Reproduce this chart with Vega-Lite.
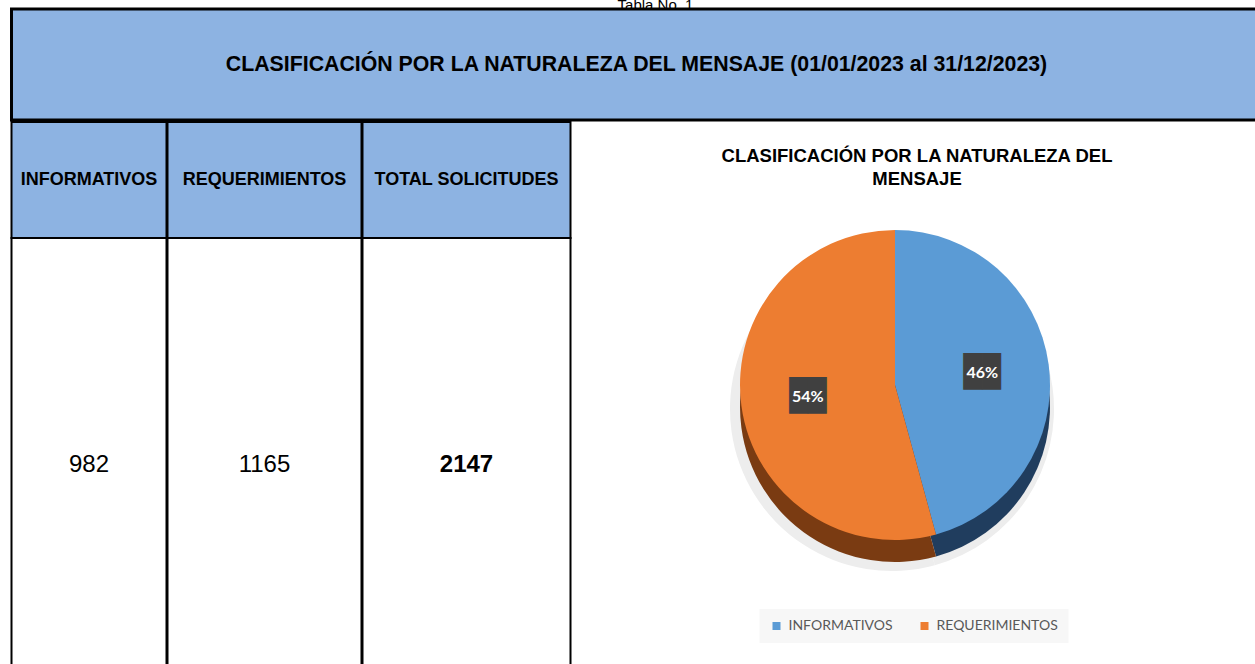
{
  "$schema": "https://vega.github.io/schema/vega-lite/v6.json",
  "padding": {"left": 9.5, "top": -4, "right": 0, "bottom": 0},
  "background": "white",
  "datasets": {
    "tabla": [
      {"columna": "INFORMATIVOS", "valor": 982},
      {"columna": "REQUERIMIENTOS", "valor": 1165},
      {"columna": "TOTAL SOLICITUDES", "valor": 2147}
    ],
    "torta": [
      {"categoria": "INFORMATIVOS", "valor": 982, "etiqueta": "46%"},
      {"categoria": "REQUERIMIENTOS", "valor": 1165, "etiqueta": "54%"}
    ],
    "titulo": [{"texto": "CLASIFICACIÓN POR LA NATURALEZA DEL MENSAJE (01/01/2023 al 31/12/2023)"}]
  },
  "spacing": -4,
  "resolve": {"scale": {"color": "independent"}, "legend": {"color": "independent"}},
  "vconcat": [
    {
      "title": {"text": "Tabla No. 1", "fontSize": 15, "font": "Liberation Sans", "fontWeight": "normal", "color": "black", "anchor": "middle", "dx": 19, "dy": 3, "offset": -13, "baseline": "alphabetic"},
      "data": {"name": "titulo"},
      "width": 1250,
      "height": 111,
      "view": {"fill": "#8DB3E2", "stroke": "black", "strokeWidth": 3},
      "mark": {"type": "text", "font": "Liberation Sans", "fontSize": 21.3, "fontWeight": "bold", "color": "black"},
      "encoding": {"text": {"field": "texto", "type": "nominal"}}
    },
    {
      "spacing": -3,
      "resolve": {"scale": {"color": "independent"}, "legend": {"color": "independent"}},
      "hconcat": [
        {
          "spacing": 0,
          "bounds": "flush",
          "vconcat": [
            {"data": {"name": "tabla"}, "transform": [{"filter": "datum.columna === 'INFORMATIVOS'"}], "width": 155, "height": 116, "view": {"fill": "#8DB3E2", "stroke": "black", "strokeWidth": 2}, "mark": {"type": "text", "font": "Liberation Sans", "fontSize": 18, "fontWeight": "bold", "color": "black"}, "encoding": {"text": {"field": "columna", "type": "nominal"}}},
            {"data": {"name": "tabla"}, "transform": [{"filter": "datum.columna === 'INFORMATIVOS'"}], "width": 155, "height": 454, "view": {"fill": "white", "stroke": "black", "strokeWidth": 2}, "mark": {"type": "text", "font": "Liberation Sans", "fontSize": 24, "fontWeight": "normal", "color": "black"}, "encoding": {"text": {"field": "valor", "type": "nominal"}}}
          ]
        },
        {
          "spacing": 0,
          "bounds": "flush",
          "vconcat": [
            {"data": {"name": "tabla"}, "transform": [{"filter": "datum.columna === 'REQUERIMIENTOS'"}], "width": 194, "height": 116, "view": {"fill": "#8DB3E2", "stroke": "black", "strokeWidth": 2}, "mark": {"type": "text", "font": "Liberation Sans", "fontSize": 18, "fontWeight": "bold", "color": "black"}, "encoding": {"text": {"field": "columna", "type": "nominal"}}},
            {"data": {"name": "tabla"}, "transform": [{"filter": "datum.columna === 'REQUERIMIENTOS'"}], "width": 194, "height": 454, "view": {"fill": "white", "stroke": "black", "strokeWidth": 2}, "mark": {"type": "text", "font": "Liberation Sans", "fontSize": 24, "fontWeight": "normal", "color": "black"}, "encoding": {"text": {"field": "valor", "type": "nominal"}}}
          ]
        },
        {
          "spacing": 0,
          "bounds": "flush",
          "vconcat": [
            {"data": {"name": "tabla"}, "transform": [{"filter": "datum.columna === 'TOTAL SOLICITUDES'"}], "width": 208, "height": 116, "view": {"fill": "#8DB3E2", "stroke": "black", "strokeWidth": 2}, "mark": {"type": "text", "font": "Liberation Sans", "fontSize": 18, "fontWeight": "bold", "color": "black"}, "encoding": {"text": {"field": "columna", "type": "nominal"}}},
            {"data": {"name": "tabla"}, "transform": [{"filter": "datum.columna === 'TOTAL SOLICITUDES'"}], "width": 208, "height": 454, "view": {"fill": "white", "stroke": "black", "strokeWidth": 2}, "mark": {"type": "text", "font": "Liberation Sans", "fontSize": 24, "fontWeight": "bold", "color": "black"}, "encoding": {"text": {"field": "valor", "type": "nominal"}}}
          ]
        },
        {
          "data": {"name": "torta"},
          "width": 685,
          "height": 480,
          "view": {"stroke": null},
          "title": {"text": ["CLASIFICACIÓN POR LA NATURALEZA DEL", "MENSAJE"], "font": "Liberation Sans", "fontSize": 18.5, "fontWeight": "bold", "color": "black", "lineHeight": 23, "anchor": "middle", "offset": -66, "dx": 3},
          "encoding": {
            "theta": {"field": "valor", "type": "quantitative", "stack": true},
            "order": {"field": "categoria", "type": "nominal", "sort": "ascending"}
          },
          "layer": [
            {
              "mark": {"type": "arc", "radius": 162, "xOffset": -22, "yOffset": 47},
              "encoding": {
                "detail": {"field": "categoria", "type": "nominal"},
                "color": {"value": "#EDEDED"}
              }
            },
            {
              "mark": {"type": "arc", "radius": 155, "xOffset": -19, "yOffset": 45},
              "encoding": {
                "detail": {"field": "categoria", "type": "nominal"},
                "color": {"condition": {"test": "datum.categoria === 'INFORMATIVOS'", "value": "#203D5E"}, "value": "#7A3B12"}
              }
            },
            {
              "mark": {"type": "arc", "radius": 155, "xOffset": -19, "yOffset": 23},
              "encoding": {
                "color": {
                  "field": "categoria", "type": "nominal",
                  "scale": {"domain": ["INFORMATIVOS", "REQUERIMIENTOS"], "range": ["#5B9BD5", "#ED7D31"]},
                  "legend": {"orient": "bottom", "direction": "horizontal", "title": null, "symbolType": "square", "symbolSize": 64, "symbolStrokeWidth": 0, "labelFont": "Lato", "labelFontSize": 14, "labelColor": "#595959", "fillColor": "#F7F7F7", "padding": 10, "offset": 7, "columnPadding": 24, "labelOffset": 5}
                }
              }
            },
            {
              "mark": {"type": "text", "radius": 88, "xOffset": -19, "yOffset": 23, "text": "██", "font": "DejaVu Sans Mono", "fontSize": 31, "color": "#404040"},
              "encoding": {"detail": {"field": "categoria", "type": "nominal"}}
            },
            {
              "mark": {"type": "text", "radius": 88, "xOffset": -19, "yOffset": 23, "font": "Lato", "fontSize": 16, "fontWeight": "bold", "color": "white"},
              "encoding": {"text": {"field": "etiqueta", "type": "nominal"}, "detail": {"field": "categoria", "type": "nominal"}}
            }
          ]
        }
      ]
    }
  ],
  "config": {
    "legend": {"layout": {"bottom": {"anchor": "middle"}}}
  }
}
